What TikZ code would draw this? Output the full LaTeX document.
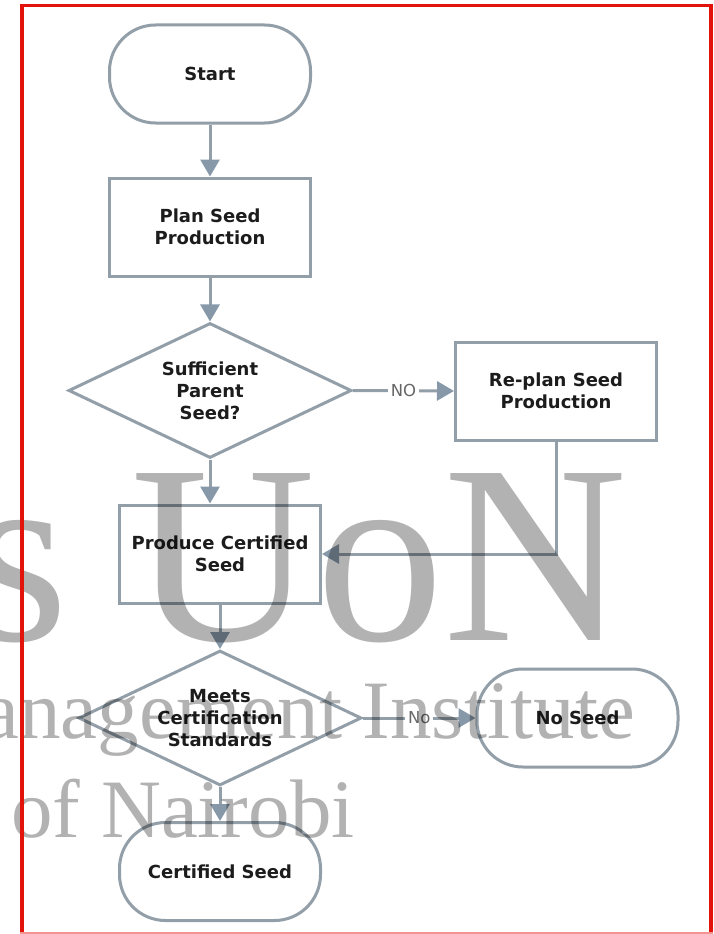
\documentclass[tikz,border=0pt]{standalone}
\usepackage{fontspec}
\newfontfamily\boxfont{DejaVu Sans}
\newfontfamily\markfont{Liberation Serif}
\usetikzlibrary{
  arrows.meta,      % Triangle 箭头
  shapes.geometric, % 菱形判断框
  positioning       % 节点定位
}
\definecolor{linegray}{HTML}{929EA8}
\definecolor{tipgray}{HTML}{8799A9}
\definecolor{labelgray}{HTML}{666666}
\definecolor{textdark}{HTML}{1C1C1C}
\definecolor{framered}{HTML}{E3120B}

\begin{document}
\begin{tikzpicture}[
  x=1pt, y=-1pt,
  flowline/.style={draw=linegray, line width=3pt},
  flowarrow/.style={flowline, -{Triangle[width=19pt, length=17pt, color=tipgray]}},
  txt/.style={font=\boxfont\bfseries\fontsize{18}{22}\selectfont, text=textdark, align=center},
  proc/.style={flowline, txt, fill=white, minimum width=201pt, minimum height=98pt, inner sep=0pt},
  term/.style={proc, rounded corners=46pt},
  decide/.style={flowline, diamond, fill=white, minimum width=283pt, minimum height=135pt, inner sep=0pt},
  lbl/.style={font=\boxfont\fontsize{16.5}{20}\selectfont, text=labelgray, fill=white, inner sep=3pt},
  wmark/.style={font=\markfont, text=black, text opacity=0.3, inner sep=0pt}
]
  % 画幅 714 x 934
  \useasboundingbox (0,0) rectangle (714,934);
  \clip (0,0) rectangle (714,934);
  \fill[white] (0,0) rectangle (714,934);

  % 两列的横坐标
  \def\colA{210}
  \def\colB{220}

  % 上半部分
  \node[term] (start) at (\colA,74) {Start};
  \node[proc] (plan) at (\colA,227) {Plan Seed\\Production};
  \node[decide] (suff) at (\colA,390.5) {};
  \node[txt] (sufftext) at (suff) {Sufficient\\Parent\\Seed?};
  \node[proc] (replan) at (556,391) {Re-plan Seed\\Production};

  % 下半部分
  \node[proc] (produce) at (\colB,554) {Produce Certified\\Seed};
  \node[decide] (meets) at (\colB,718) {};
  \node[txt] (meetstext) at (meets) {Meets\\Certification\\Standards};
  \node[term] (noseed) at (577.5,718) {No Seed};
  \node[term] (certified) at (\colB,871.5) {Certified Seed};

  % 连线
  \draw[flowarrow] (start) -- (plan);
  \draw[flowarrow] (plan) -- (suff);
  \draw[flowarrow] (suff.east) -- node[lbl] (nolabel) {NO} (replan.west);
  \draw[flowarrow] (suff.south) -- (suff.south |- produce.north);
  \draw[flowarrow] (replan.south) |- (produce.east);
  \draw[flowarrow] (produce) -- (meets);
  \draw[flowarrow] (meets.east) -- node[lbl] (nosmall) {No} (noseed.west);
  \draw[flowarrow] (meets) -- (certified);

  % 水印
  \node[wmark, font=\markfont\fontsize{255}{255}\selectfont, anchor=base east] (wmone) at (628,640) {s UoN};
  \node[wmark, font=\markfont\fontsize{83}{83}\selectfont, anchor=base east] (wmtwo) at (635,738) {anagement Institute};
  \node[wmark, font=\markfont\fontsize{83}{83}\selectfont, anchor=base west] (wmthree) at (11,837) {of Nairobi};

  % 红色边框
  \fill[framered] (20,4) rectangle (713,7.5);
  \fill[framered] (19.5,4) rectangle (24,934);
  \fill[framered] (709,4) rectangle (713,934);
  \fill[framered!45] (20,932) rectangle (713,934);
\end{tikzpicture}
\end{document}
